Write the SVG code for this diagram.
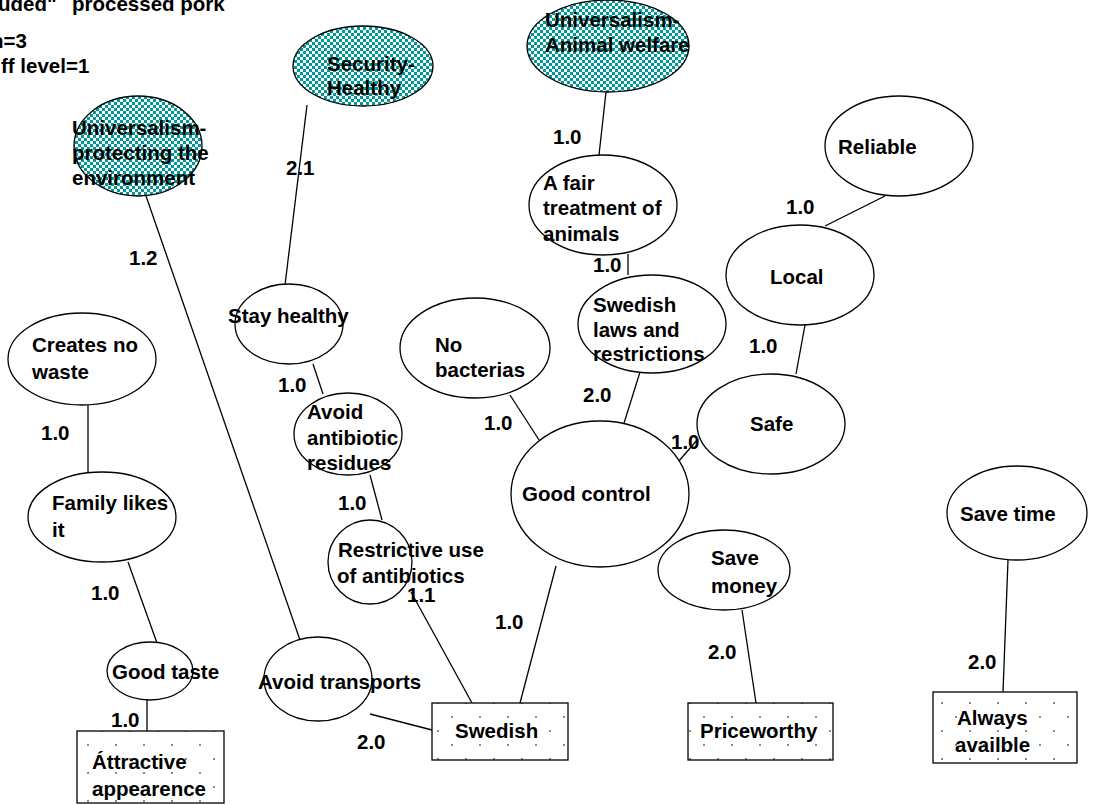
<svg xmlns="http://www.w3.org/2000/svg" width="1097" height="805" viewBox="0 0 1097 805">
<defs>
<pattern id="chk" width="6" height="6" patternUnits="userSpaceOnUse"><rect width="6" height="6" fill="#fff"/><rect width="3" height="3" fill="#009999"/><rect x="3" y="3" width="3" height="3" fill="#009999"/></pattern>
<pattern id="dots" width="28" height="28" patternUnits="userSpaceOnUse"><rect width="28" height="28" fill="#fff"/><rect x="17" y="2" width="2" height="2" fill="#888"/><rect x="3" y="16" width="2" height="2" fill="#888"/></pattern>
<style>
text{font-family:"Liberation Sans",Arial,sans-serif;font-weight:bold;font-size:20.5px;fill:#000}
.n{stroke:#000;stroke-width:1.3;fill:#fff}
.v{stroke:#000;stroke-width:1.3;fill:url(#chk)}
.b{stroke:#000;stroke-width:1.3;fill:url(#dots)}
.c line{stroke:#000;stroke-width:1.3}
</style>
</defs>
<rect width="1097" height="805" fill="#fff"/>
<g id="header">
<text y="11"><tspan x="-2">uded"</tspan><tspan x="72">processed pork</tspan></text>
<text x="-9" y="48">n=3</text>
<text x="1" y="73">ff level=1</text>
</g>
<g class="c" id="connectors">
<line x1="146" y1="196" x2="300" y2="640"/>
<line x1="307" y1="105" x2="285" y2="285"/>
<line x1="606" y1="92" x2="599" y2="155"/>
<line x1="628" y1="254" x2="628" y2="275"/>
<line x1="885" y1="196" x2="825" y2="226"/>
<line x1="805" y1="325" x2="796" y2="374"/>
<line x1="640" y1="372" x2="620" y2="436"/>
<line x1="510" y1="395" x2="541" y2="443"/>
<line x1="678" y1="462" x2="698" y2="439"/>
<line x1="313" y1="364" x2="323" y2="394"/>
<line x1="370" y1="475" x2="382" y2="520"/>
<line x1="411" y1="592" x2="472" y2="703"/>
<line x1="370" y1="714" x2="432" y2="730"/>
<line x1="556" y1="566" x2="520" y2="703"/>
<line x1="742" y1="610" x2="756" y2="703"/>
<line x1="1008" y1="560" x2="1003" y2="692"/>
<line x1="88" y1="405" x2="88" y2="473"/>
<line x1="128" y1="562" x2="157" y2="643"/>
<line x1="147" y1="700" x2="147" y2="731"/>
</g>
<g id="labels">
<text x="553" y="144">1.0</text>
<text x="286" y="175">2.1</text>
<text x="129" y="265">1.2</text>
<text x="786" y="214">1.0</text>
<text x="593" y="272">1.0</text>
<text x="749" y="353">1.0</text>
<text x="583" y="402">2.0</text>
<text x="484" y="430">1.0</text>
<text x="671" y="449">1.0</text>
<text x="278" y="392">1.0</text>
<text x="338" y="510">1.0</text>
<text x="41" y="440">1.0</text>
<text x="91" y="600">1.0</text>
<text x="407" y="602">1.1</text>
<text x="495" y="629">1.0</text>
<text x="708" y="659">2.0</text>
<text x="968" y="669">2.0</text>
<text x="111" y="727">1.0</text>
<text x="357" y="749">2.0</text>
</g>
<g id="security-healthy"><ellipse class="v" cx="363" cy="66" rx="70" ry="40"/><text x="327" y="71">Security-</text><text x="327" y="95">Healthy</text></g>
<g id="universalism-animal"><ellipse class="v" cx="608" cy="46" rx="81" ry="46"/><text x="545" y="27">Universalism-</text><text x="545" y="52">Animal welfare</text></g>
<g id="universalism-env"><ellipse class="v" cx="138" cy="146" rx="64" ry="50"/><text x="72" y="135">Universalism-</text><text x="72" y="160">protecting the</text><text x="72" y="185">environment</text></g>
<g id="reliable"><ellipse class="n" cx="899" cy="146" rx="74" ry="50"/><text x="838" y="154">Reliable</text></g>
<g id="local"><ellipse class="n" cx="800" cy="275" rx="74" ry="50"/><text x="770" y="284">Local</text></g>
<g id="safe"><ellipse class="n" cx="771" cy="424" rx="74" ry="50"/><text x="750" y="431">Safe</text></g>
<g id="fair"><ellipse class="n" cx="603" cy="205" rx="74" ry="50"/><text x="543" y="190">A fair</text><text x="543" y="215">treatment of</text><text x="543" y="241">animals</text></g>
<g id="laws"><ellipse class="n" cx="652" cy="324" rx="74" ry="49"/><text x="593" y="312">Swedish</text><text x="593" y="337">laws and</text><text x="593" y="361">restrictions</text></g>
<g id="bacterias"><ellipse class="n" cx="475" cy="348" rx="75" ry="50"/><text x="435" y="352">No</text><text x="435" y="377">bacterias</text></g>
<g id="good-control"><ellipse class="n" cx="600" cy="494" rx="89" ry="73"/><text x="522" y="501">Good control</text></g>
<g id="stay-healthy"><ellipse class="n" cx="289" cy="324" rx="54" ry="40"/><text x="228" y="323">Stay healthy</text></g>
<g id="avoid-residues"><ellipse class="n" cx="348" cy="434" rx="54" ry="41"/><text x="307" y="419">Avoid</text><text x="307" y="445">antibiotic</text><text x="307" y="470">residues</text></g>
<g id="restrictive"><ellipse class="n" cx="370" cy="562" rx="42" ry="42"/><text x="338" y="557">Restrictive use</text><text x="337" y="583">of antibiotics</text></g>
<g id="avoid-transports"><ellipse class="n" cx="318" cy="679" rx="54" ry="42"/><text x="258" y="689">Avoid transports</text></g>
<g id="save-money"><ellipse class="n" cx="724" cy="570" rx="66" ry="40"/><text x="711" y="565">Save</text><text x="711" y="593">money</text></g>
<g id="save-time"><ellipse class="n" cx="1017" cy="513" rx="70" ry="47"/><text x="960" y="521">Save time</text></g>
<g id="creates"><ellipse class="n" cx="82" cy="359" rx="74" ry="46"/><text x="32" y="352">Creates no</text><text x="32" y="379">waste</text></g>
<g id="family"><ellipse class="n" cx="102" cy="517" rx="74" ry="45"/><text x="52" y="510">Family likes</text><text x="52" y="537">it</text></g>
<g id="good-taste"><ellipse class="n" cx="150" cy="671" rx="43" ry="29"/><text x="112" y="679">Good taste</text></g>
<g id="swedish"><rect class="b" x="432" y="703" width="136" height="57"/><text x="455" y="738">Swedish</text></g>
<g id="priceworthy"><rect class="b" x="688" y="703" width="145" height="57"/><text x="700" y="738">Priceworthy</text></g>
<g id="always"><rect class="b" x="933" y="692" width="144" height="71"/><text x="957" y="725">Always</text><text x="955" y="752">availble</text></g>
<g id="attractive"><rect class="b" x="77" y="731" width="147" height="72"/><text x="92" y="769">Áttractive</text><text x="92" y="796">appearence</text></g>
</svg>
